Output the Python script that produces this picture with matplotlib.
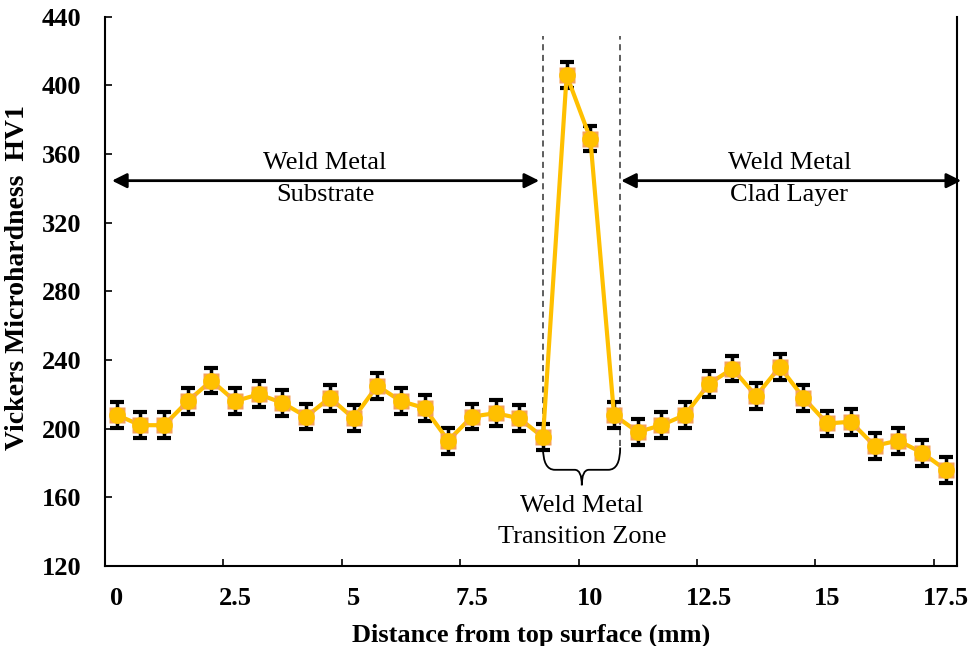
import numpy as np
import matplotlib.pyplot as plt
from matplotlib.path import Path
from matplotlib.patches import PathPatch
from matplotlib.ticker import FixedLocator

# hardness profile, one reading every 0.5 mm
distance = np.arange(36) * 0.5
hardness = [208, 202, 202, 216, 228, 216, 220, 215, 207, 218, 206, 225,
            216, 212, 193, 207, 209, 206, 195, 406, 369, 208, 198, 202,
            208, 226, 235, 219, 236, 218, 203, 204, 190, 193, 186, 176]
hardness_err = [7.5] * 36

x_ticklabels = ['0', '2.5', '5', '7.5', '10', '12.5', '15', '17.5']
y_ticks = [120, 160, 200, 240, 280, 320, 360, 400, 440]

plt.rcParams['font.family'] = ['Liberation Serif', 'DejaVu Serif']

fig = plt.figure(figsize=(9.71, 6.46), dpi=100)
ax = fig.add_axes([0.108, 0.124, 0.878, 0.85])

ax.errorbar(distance, hardness, yerr=hardness_err, color='#FFC000', lw=3,
            ecolor='black', elinewidth=2.5, capsize=5, capthick=3,
            marker='s', ms=11, mfc='#F5A05A', mec='none', zorder=3)
ax.plot(distance, hardness, 'o', ms=11, color='#FFC000', zorder=4)

ax.set_xlim(-0.25, 17.75)
ax.set_ylim(120, 440)
ax.set_yticks(y_ticks)
ax.set_xticks(np.arange(0, 17.6, 2.5))
ax.set_xticklabels(x_ticklabels)
ax.xaxis.set_minor_locator(FixedLocator(np.arange(2.25, 17.5, 2.5)))
ax.tick_params(axis='x', which='major', length=0, pad=15)
ax.tick_params(axis='x', which='minor', direction='in', length=5, width=1.2)
ax.tick_params(axis='y', direction='in', length=5, width=1.2, pad=17)
for lab in ax.get_xticklabels() + ax.get_yticklabels():
    lab.set_fontweight('bold')
    lab.set_fontsize(19)

ax.spines['top'].set_visible(False)
for s in ['left', 'bottom', 'right']:
    ax.spines[s].set_linewidth(1.5)

ax.set_xlabel('Distance from top surface (mm)', fontsize=19, fontweight='bold', labelpad=10)
ax.set_ylabel('Vickers Microhardness  HV1', fontsize=20, fontweight='bold')
ax.yaxis.set_label_coords(-0.088, 0.525)

# zone boundaries
ax.plot([9.0, 9.0], [190, 429], ls=(0, (4, 3)), color='#333333', lw=1.1, zorder=2)
ax.plot([10.63, 10.63], [190, 429], ls=(0, (4, 3)), color='#333333', lw=1.1, zorder=2)

# zone arrows and labels
arrow_kw = dict(arrowstyle='<|-|>', color='black', lw=2, mutation_scale=22,
                shrinkA=0, shrinkB=0)
ax.annotate('', xy=(-0.1, 344.5), xytext=(8.92, 344.5), arrowprops=arrow_kw)
ax.annotate('', xy=(10.65, 344.5), xytext=(17.83, 344.5), arrowprops=arrow_kw,
            annotation_clip=False)
ax.text(4.4, 355, 'Weld Metal', ha='center', va='center', fontsize=19)
ax.text(4.4, 336, 'Substrate', ha='center', va='center', fontsize=19)
ax.text(14.2, 355, 'Weld Metal', ha='center', va='center', fontsize=19)
ax.text(14.2, 336, 'Clad Layer', ha='center', va='center', fontsize=19)

# curly brace under transition zone
xl, xr, xm = 9.0, 10.63, 9.82
yt, yb, yp = 189, 176, 167
verts = [(xl, yt), (xl, yb), (xl + 0.25, yb),
         (xm - 0.15, yb), (xm, yb), (xm, yp),
         (xm, yb), (xm + 0.15, yb),
         (xr - 0.25, yb), (xr, yb), (xr, yt)]
codes = [Path.MOVETO, Path.CURVE3, Path.CURVE3,
         Path.LINETO, Path.CURVE3, Path.CURVE3,
         Path.CURVE3, Path.CURVE3,
         Path.LINETO, Path.CURVE3, Path.CURVE3]
ax.add_patch(PathPatch(Path(verts, codes), fill=False, lw=1.3, color='black'))
ax.text(xm, 155, 'Weld Metal', ha='center', va='center', fontsize=19)
ax.text(xm, 137, 'Transition Zone', ha='center', va='center', fontsize=19)

fig.savefig('out.png', dpi=100)
